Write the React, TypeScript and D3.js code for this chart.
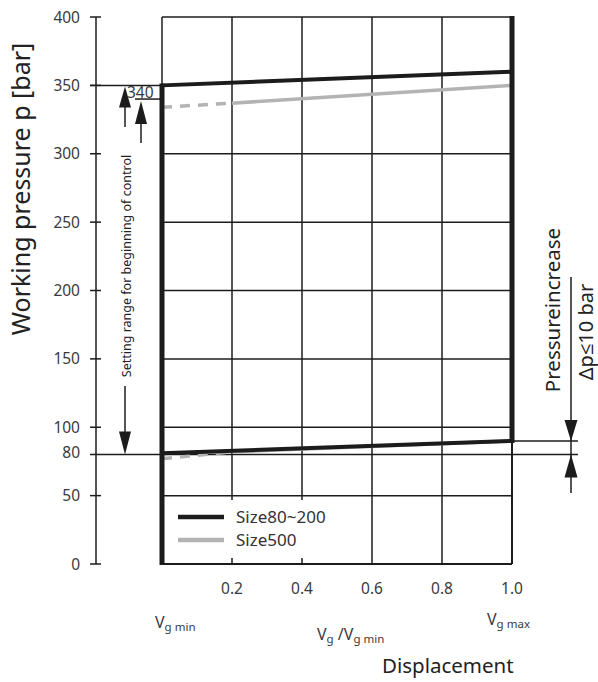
import React from "react";
import * as d3 from "d3";

// ---- data ----
const yTicks = [0, 50, 100, 150, 200, 250, 300, 350, 400];
const xTicks = [0.2, 0.4, 0.6, 0.8, 1.0];
const xTickLabels = ["0.2", "0.4", "0.6", "0.8", "1.0"];
const gridY = [50, 100, 150, 200, 250, 300];
const gridX = [0.2, 0.4, 0.6, 0.8];

// Size80~200 (black)
const blackUpper: [number, number][] = [[0, 350], [1, 360]];
const blackLower: [number, number][] = [[0, 81], [1, 90]];
// Size500 (grey)
const greyUpperDashed: [number, number][] = [[0, 334], [0.2, 337]];
const greyUpperSolid: [number, number][] = [[0.2, 337], [1, 350]];
const greyLowerDashed: [number, number][] = [[0, 77], [0.2, 82]];
const greyLowerSolid: [number, number][] = [[0.2, 82], [1, 90]];

const markValues = { top: 350, setMark: 340, low: 80, upEnd: 90 };
const legendItems = ["Size80~200", "Size500"];

const W = 598, H = 682;
const FONT = "'Noto Sans', 'Open Sans', sans-serif";

export default function App() {
  const x = d3.scaleLinear().domain([0, 1]).range([162, 512]);
  const y = d3.scaleLinear().domain([0, 400]).range([564, 17]);
  const line = d3.line<[number, number]>().x(d => x(d[0])).y(d => y(d[1]));
  const dark = "#1c1c1c";
  const grey = "#b3b3b3";
  const txt = "#3a3a3a";
  const axisX = 96;

  const tri = (cx: number, tip: number, dir: number, h: number, w: number) =>
    `M${cx},${tip} L${cx - w / 2},${tip - dir * h} L${cx + w / 2},${tip - dir * h} Z`;

  return (
    <svg width={W} height={H} style={{ position: "absolute", left: 0, top: 0, background: "#fff" }} fontFamily={FONT}>
      {/* grid */}
      {gridY.map(v => (
        <line key={"gy" + v} x1={x(0)} x2={x(1)} y1={y(v)} y2={y(v)} stroke={dark} strokeWidth={1.5} />
      ))}
      {gridX.map(v => (
        <line key={"gx" + v} x1={x(v)} x2={x(v)} y1={y(400)} y2={y(0)} stroke={dark} strokeWidth={1.5} />
      ))}
      {/* frame thin parts */}
      <line x1={x(0)} x2={x(1)} y1={y(400)} y2={y(400)} stroke={dark} strokeWidth={1.5} />
      <line x1={x(0)} x2={x(1)} y1={y(0)} y2={y(0)} stroke={dark} strokeWidth={2} />
      <line x1={x(0)} x2={x(0)} y1={y(400)} y2={y(350)} stroke={dark} strokeWidth={1.5} />
      <line x1={x(1)} x2={x(1)} y1={y(90)} y2={y(0)} stroke={dark} strokeWidth={2} />

      {/* legend box */}
      <rect x={166} y={500} width={180} height={58} fill="#fff" />
      {legendItems.map((t, i) => (
        <g key={t}>
          <line x1={178} x2={224} y1={517 + i * 23} y2={517 + i * 23} stroke={i === 0 ? dark : grey} strokeWidth={4.5} />
          <text x={236} y={523 + i * 23} fontSize={17} fill="#333">{t}</text>
        </g>
      ))}

      {/* y axis */}
      <line x1={axisX} x2={axisX} y1={y(400)} y2={y(0)} stroke={dark} strokeWidth={1.5} />
      {yTicks.map(v => (
        <g key={"yt" + v}>
          <line x1={90} x2={101} y1={y(v)} y2={y(v)} stroke={dark} strokeWidth={1.5} />
          <text x={80} y={y(v) + 5.5} fontSize={15.5} textAnchor="end" fill={txt}>{v}</text>
        </g>
      ))}
      <text x={80} y={y(markValues.low) + 3} fontSize={15.5} textAnchor="end" fill={txt}>{markValues.low}</text>
      {/* reference lines */}
      <line x1={90} x2={x(0)} y1={y(markValues.top)} y2={y(markValues.top)} stroke={dark} strokeWidth={1.5} />
      <line x1={90} x2={578} y1={y(markValues.low)} y2={y(markValues.low)} stroke={dark} strokeWidth={1.5} />
      <line x1={135} x2={x(0)} y1={y(markValues.setMark)} y2={y(markValues.setMark)} stroke={dark} strokeWidth={1.5} />
      <line x1={x(1)} x2={578} y1={y(markValues.upEnd)} y2={y(markValues.upEnd)} stroke={dark} strokeWidth={1.5} />
      <text x={127} y={y(markValues.setMark) - 1} fontSize={15.5} fill={txt}>{markValues.setMark}</text>

      {/* curves */}
      <path d={line(greyUpperDashed)!} stroke={grey} strokeWidth={3.5} fill="none" strokeDasharray="10,8" />
      <path d={line(greyUpperSolid)!} stroke={grey} strokeWidth={3.5} fill="none" />
      <path d={line(greyLowerDashed)!} stroke={grey} strokeWidth={3.5} fill="none" strokeDasharray="10,8" />
      <path d={line(greyLowerSolid)!} stroke={grey} strokeWidth={3.5} fill="none" />
      <path d={line(blackUpper)!} stroke={dark} strokeWidth={4} fill="none" />
      <path d={line(blackLower)!} stroke={dark} strokeWidth={4} fill="none" />
      {/* thick verticals */}
      <line x1={x(0)} x2={x(0)} y1={y(350) - 2} y2={y(0) + 1} stroke={dark} strokeWidth={5} />
      <line x1={x(1)} x2={x(1)} y1={y(400) - 1} y2={y(90) + 2} stroke={dark} strokeWidth={5} />

      {/* left arrows */}
      <line x1={125} x2={125} y1={y(markValues.top) + 10} y2={127} stroke={dark} strokeWidth={1.5} />
      <path d={tri(125, y(markValues.top) + 1, -1, 21, 12)} fill={dark} />
      <line x1={141} x2={141} y1={y(markValues.setMark) + 10} y2={143} stroke={dark} strokeWidth={1.5} />
      <path d={tri(141, y(markValues.setMark) + 2, -1, 23, 12)} fill={dark} />
      <line x1={125} x2={125} y1={386} y2={y(markValues.low) - 10} stroke={dark} strokeWidth={1.5} />
      <path d={tri(125, y(markValues.low), 1, 23, 12)} fill={dark} />
      <text transform={`translate(131,266) rotate(-90)`} fontSize={12.5} textAnchor="middle" fill="#222">
        Setting range for beginning of control
      </text>

      {/* right annotation */}
      <line x1={571} x2={571} y1={277} y2={493} stroke={dark} strokeWidth={1.5} />
      <path d={tri(571, y(markValues.upEnd), 1, 21, 13)} fill={dark} />
      <path d={tri(571, y(markValues.low), -1, 23, 13)} fill={dark} />
      <text transform={`translate(560,310) rotate(-90)`} fontSize={20.5} textAnchor="middle" fill="#222">Pressureincrease</text>
      <text transform={`translate(593,332) rotate(-90)`} fontSize={20} textAnchor="middle" fill="#222">Δp≤10 bar</text>

      {/* x tick labels */}
      {xTicks.map((v, i) => (
        <text key={"xt" + v} x={x(v)} y={594} fontSize={15.5} textAnchor="middle" fill={txt}>{xTickLabels[i]}</text>
      ))}
      <text x={155} y={628} fontSize={16} fill={txt}>V<tspan fontSize={11.5} dy={3}>g min</tspan></text>
      <text x={317} y={640} fontSize={16} fill={txt}>V<tspan fontSize={11.5} dy={3}>g</tspan><tspan fontSize={16} dy={-3}> /V</tspan><tspan fontSize={11.5} dy={3}>g min</tspan></text>
      <text x={487} y={625} fontSize={16} fill={txt}>V<tspan fontSize={11.5} dy={3}>g max</tspan></text>
      <text x={382} y={673} fontSize={20.5} fill="#222">Displacement</text>

      {/* y title */}
      <text transform={`translate(30,189) rotate(-90)`} fontSize={25} textAnchor="middle" fill="#222">Working pressure p [bar]</text>
    </svg>
  );
}
